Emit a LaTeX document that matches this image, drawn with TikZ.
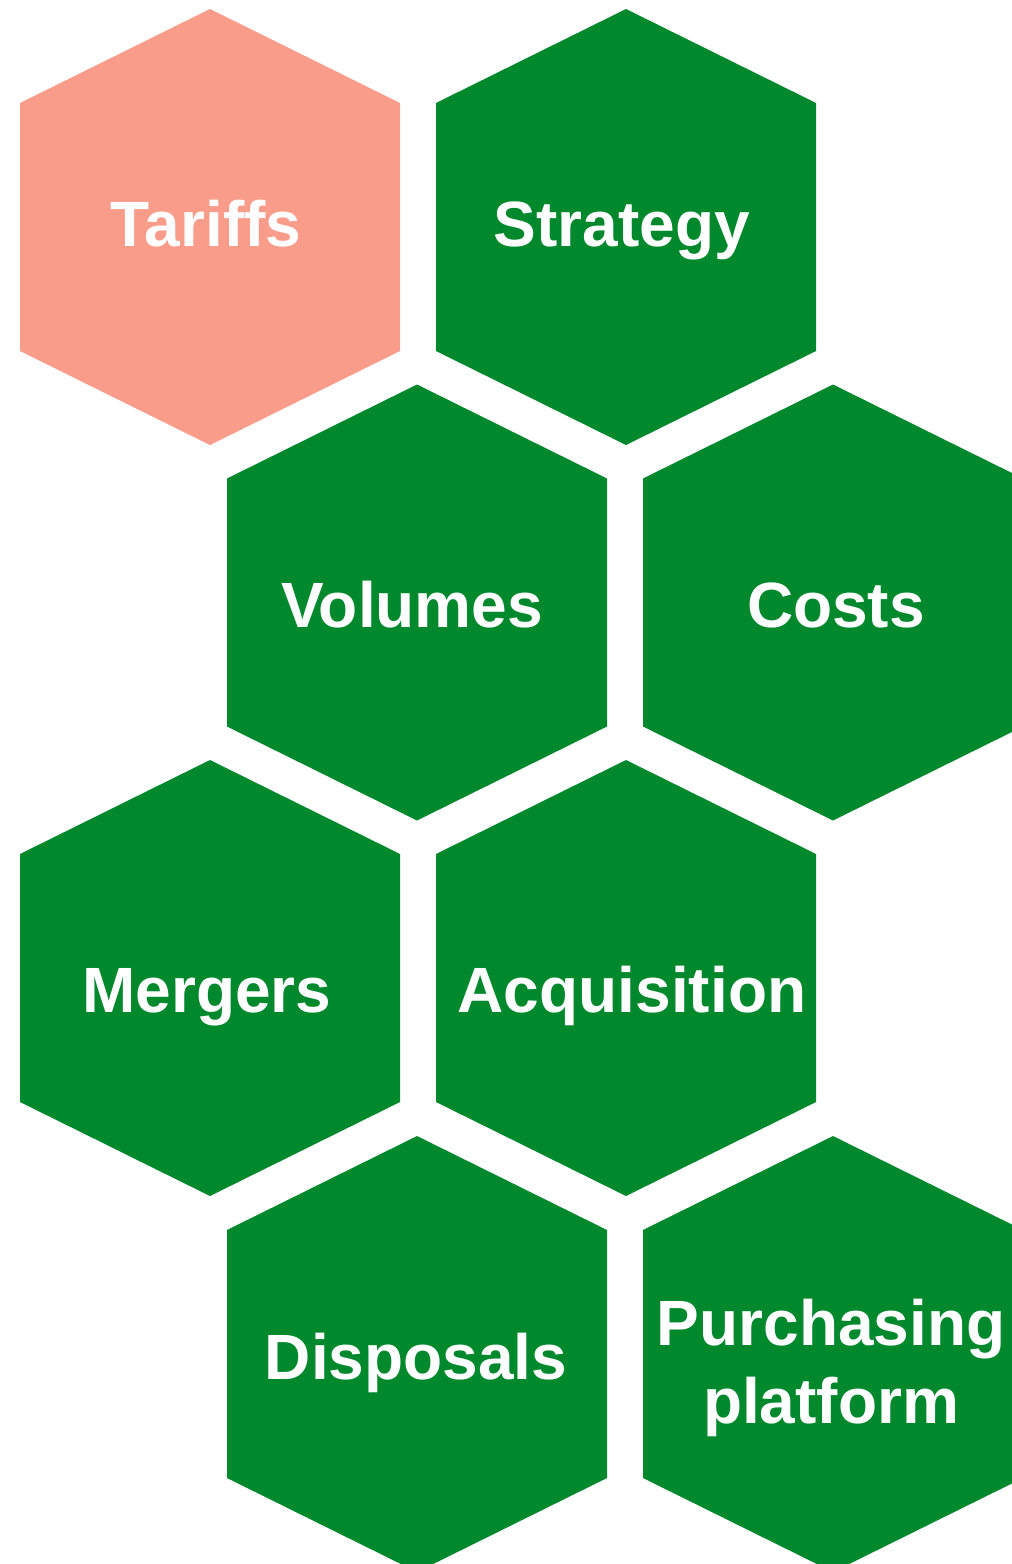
\documentclass[tikz,border=0pt]{standalone}
\usepackage{fontspec}
\setmainfont{Liberation Sans}
\definecolor{hexgreen}{HTML}{00882D}
\definecolor{hexsalmon}{HTML}{FA9C8A}
\begin{document}
\begin{tikzpicture}[x=1pt,y=-1pt,
  hexlabel/.style={text=white,font=\fontsize{64}{78}\selectfont\bfseries,anchor=base,inner sep=0pt,align=center}]
\clip (0,0) rectangle (1012,1564);
\useasboundingbox (0,0) rectangle (1012,1564);
\newcommand\hexat[3]{\fill[#3] (#1,#2) ++(0,-218) -- ++(190,94) -- ++(0,248) -- ++(-190,94) -- ++(-190,-94) -- ++(0,-248) -- cycle;}
\hexat{210}{227}{hexsalmon}
\hexat{626}{227}{hexgreen}
\hexat{417}{602.5}{hexgreen}
\hexat{833}{602.5}{hexgreen}
\hexat{210}{978}{hexgreen}
\hexat{626}{978}{hexgreen}
\hexat{417}{1354}{hexgreen}
\hexat{833}{1354}{hexgreen}
\node[hexlabel] (tariffs) at (206,246) {Tariffs};
\node[hexlabel] (strategy) at (622,246) {Strategy};
\node[hexlabel] (volumes) at (412,627) {Volumes};
\node[hexlabel] (costs) at (836,627) {Costs};
\node[hexlabel] (mergers) at (207,1012) {Mergers};
\node[hexlabel] (acquisition) at (632,1012) {Acquisition};
\node[hexlabel] (disposals) at (416,1379) {Disposals};
\node[hexlabel] (purchasing) at (831,1345) {Purchasing};
\node[hexlabel] (platform) at (831,1423) {platform};
\end{tikzpicture}
\end{document}
